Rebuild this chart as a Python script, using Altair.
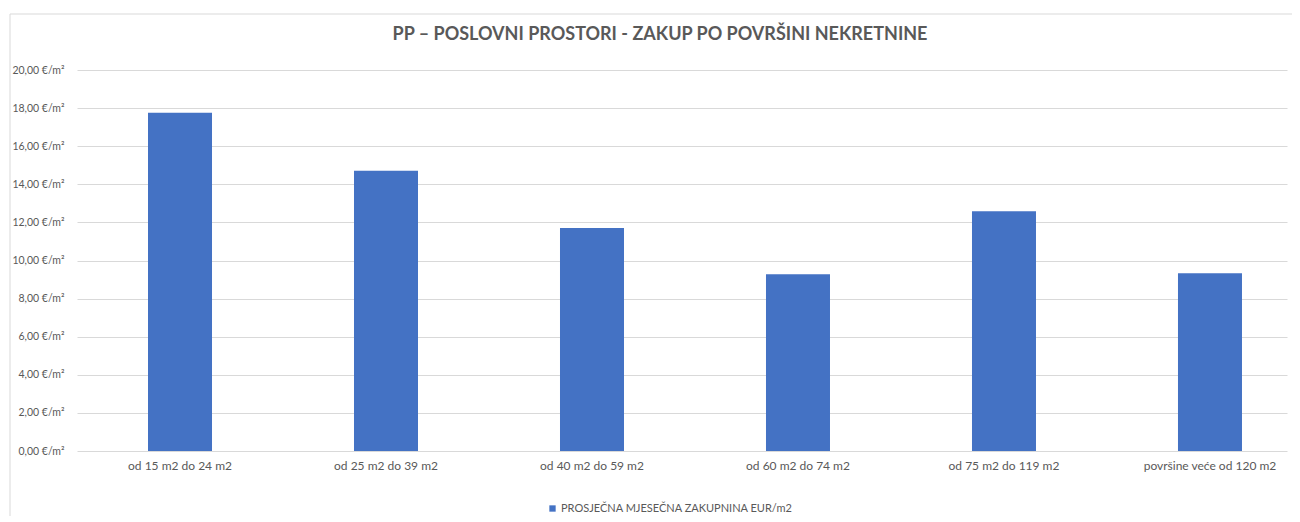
import altair as alt
import pandas as pd

categories = [
    "od 15 m2 do 24 m2",
    "od 25 m2 do 39 m2",
    "od 40 m2 do 59 m2",
    "od 60 m2 do 74 m2",
    "od 75 m2 do 119 m2",
    "površine veće od 120 m2",
]
values = [17.75, 14.71, 11.71, 9.28, 12.58, 9.33]
series_name = "PROSJEČNA MJESEČNA ZAKUPNINA EUR/m2"
y_ticks = [0, 2, 4, 6, 8, 10, 12, 14, 16, 18, 20]
title_text = "PP – POSLOVNI PROSTORI - ZAKUP PO POVRŠINI NEKRETNINE"

df = pd.DataFrame({"category": categories, "value": values, "series": [series_name] * len(categories)})
frame_df = pd.DataFrame({"title": [title_text]})

W, H = 1210, 381
TXT = "#595959"
FONT = "Lato"

bars = alt.Chart(df).mark_bar(color="#4472C4").encode(
    x=alt.X(
        "category:N",
        sort=categories,
        scale=alt.Scale(paddingInner=0.6893, paddingOuter=0.2816, align=0.612),
        axis=alt.Axis(
            title=None, labelAngle=0, domain=False, ticks=False,
            labelFont=FONT, labelFontSize=12, labelColor=TXT, labelPadding=9,
        ),
    ),
    y=alt.Y(
        "value:Q",
        scale=alt.Scale(domain=[0, 20], nice=False),
        axis=alt.Axis(
            title=None, values=y_ticks, domain=False, ticks=False,
            labelExpr="replace(format(datum.value, '.2f'), '.', ',') + ' €/m²'",
            labelFont=FONT, labelFontSize=10.5, labelColor=TXT, labelPadding=13,
            gridColor="#d9d9d9", gridWidth=1,
        ),
    ),
    color=alt.Color(
        "series:N",
        scale=alt.Scale(range=["#4472C4"]),
        legend=alt.Legend(
            title=None, orient="none", legendX=470, legendY=433,
            symbolType="square", symbolSize=40, symbolStrokeWidth=0,
            labelFont=FONT, labelFontSize=11, labelColor=TXT, labelOffset=3,
            labelLimit=500, padding=0,
        ),
    ),
)

frame_left = alt.Chart(frame_df).mark_rule(color="#d9d9d9", strokeWidth=1).encode(
    x=alt.value(-67), y=alt.value(-56), y2=alt.value(H + 70)
)
frame_top = alt.Chart(frame_df).mark_rule(color="#d9d9d9", strokeWidth=1).encode(
    x=alt.value(-67), x2=alt.value(W + 5), y=alt.value(-56)
)
title_mark = alt.Chart(frame_df).mark_text(
    font=FONT, fontSize=18, fontWeight="bold", color=TXT, align="center", baseline="middle"
).encode(
    text="title:N", x=alt.value(W / 2 - 22), y=alt.value(-35)
)

chart = alt.layer(frame_left, frame_top, title_mark, bars).properties(
    width=W,
    height=H,
    autosize=alt.AutoSizeParams(type="none"),
    padding={"left": 69, "top": 62, "right": 5, "bottom": 65},
).configure_view(stroke=None)

chart.save("out.html", embed_options={"renderer": "svg", "actions": False})
